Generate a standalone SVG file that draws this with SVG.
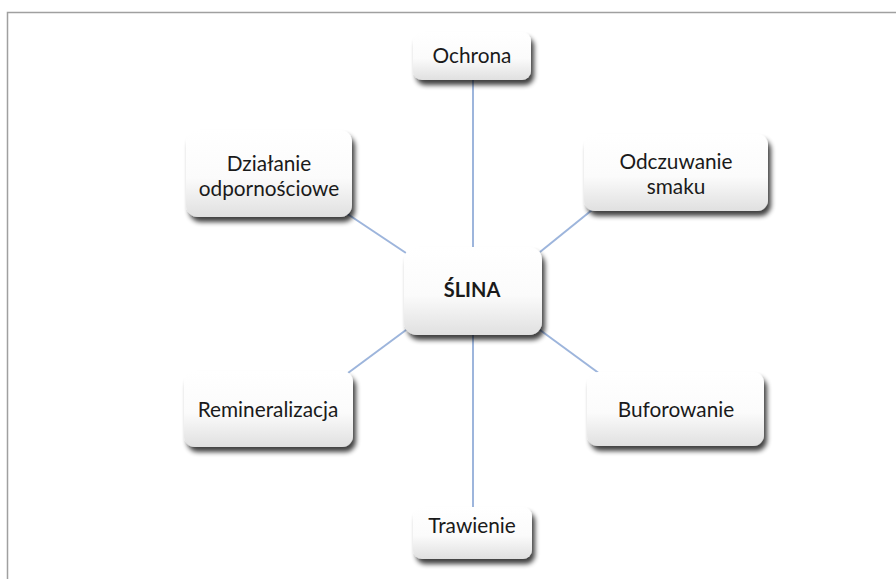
<svg xmlns="http://www.w3.org/2000/svg" width="896" height="579" viewBox="0 0 896 579">
<defs>
<linearGradient id="g" x1="0" y1="0" x2="0" y2="1">
<stop offset="0" stop-color="#ffffff"/>
<stop offset="0.55" stop-color="#fbfbfb"/>
<stop offset="1" stop-color="#e0e0e0"/>
</linearGradient>
<filter id="sh" x="-20%" y="-20%" width="150%" height="160%">
<feGaussianBlur in="SourceAlpha" stdDeviation="2.8"/>
<feOffset dx="3" dy="5" result="b"/>
<feComponentTransfer><feFuncA type="linear" slope="0.75"/></feComponentTransfer>
<feMerge><feMergeNode/><feMergeNode in="SourceGraphic"/></feMerge>
</filter>
</defs>
<style>
.box{fill:url(#g);filter:url(#sh);}
.t{font-family:Lato,"Open Sans",sans-serif;font-size:20.8px;fill:#1a1a1a;text-anchor:middle;}
.b{font-weight:bold;font-size:20px;}
.c{stroke:#9db5dc;stroke-width:2;fill:none;}
</style>
<rect x="0" y="0" width="896" height="579" fill="#fff"/>
<path d="M7.5 579 V12.5 H896" fill="none" stroke="#a0a0a0" stroke-width="1.5"/>
<g id="connectors">
<line class="c" x1="473" y1="80" x2="473" y2="250"/>
<line class="c" x1="473" y1="330" x2="473" y2="508"/>
<line class="c" x1="346" y1="213" x2="406" y2="253"/>
<line class="c" x1="540" y1="252" x2="592" y2="210"/>
<line class="c" x1="406" y1="330" x2="348" y2="373"/>
<line class="c" x1="540" y1="330" x2="600" y2="374"/>
</g>
<g id="slina"><rect class="box" x="404" y="247" width="138" height="88" rx="13"/><text class="t b" x="472" y="297">ŚLINA</text></g>
<g id="ochrona"><rect class="box" x="413" y="32" width="118" height="48" rx="9"/><text class="t" x="472" y="63">Ochrona</text></g>
<g id="dzialanie"><rect class="box" x="186" y="130" width="166" height="87" rx="12"/><text class="t" x="269" y="171">Działanie</text><text class="t" x="269" y="196">odpornościowe</text></g>
<g id="odczuwanie"><rect class="box" x="584" y="134" width="184" height="77" rx="11"/><text class="t" x="676" y="169">Odczuwanie</text><text class="t" x="676" y="194">smaku</text></g>
<g id="remineralizacja"><rect class="box" x="184" y="371" width="169" height="76" rx="11"/><text class="t" x="268" y="417">Remineralizacja</text></g>
<g id="buforowanie"><rect class="box" x="587" y="372" width="177" height="74" rx="11"/><text class="t" x="676" y="417">Buforowanie</text></g>
<g id="trawienie"><rect class="box" x="413" y="507" width="119" height="52" rx="9"/><text class="t" x="472" y="533">Trawienie</text></g>
</svg>
